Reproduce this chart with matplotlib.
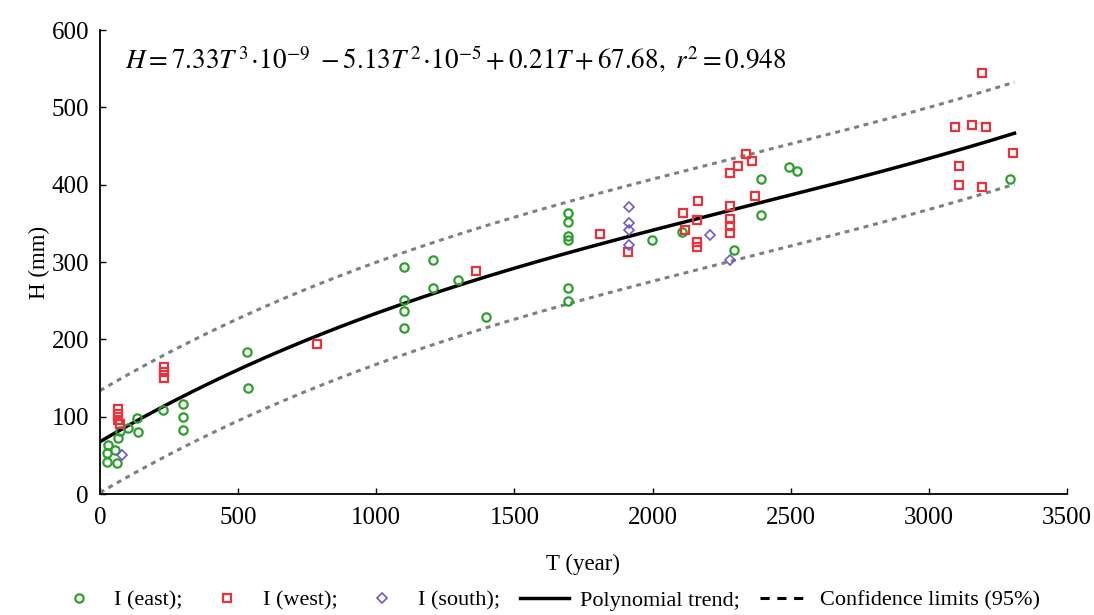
import matplotlib
matplotlib.use("Agg")
import matplotlib.pyplot as plt
from matplotlib.lines import Line2D
import numpy as np

plt.rcParams['font.family'] = ['Liberation Serif', 'DejaVu Serif']
plt.rcParams['mathtext.fontset'] = 'stix'

# --- data --- #
east_T = [30, 54, 24, 24, 60, 66, 72, 102, 133, 139, 229, 301, 301, 301, 533, 537,
          1101, 1101, 1101, 1101, 1204, 1204, 1297, 1397, 1695, 1695, 1695, 1695, 1695, 1695,
          1999, 2105, 2295, 2392, 2392, 2495, 2524, 3294]
east_H = [63, 57, 53, 42, 40, 72, 81, 85, 98, 80, 109, 117, 100, 83, 184, 137,
          293, 251, 237, 215, 302, 266, 277, 229, 364, 352, 333, 329, 266, 249,
          328, 339, 315, 407, 361, 423, 418, 407]

west_T = [66, 66, 66, 72, 232, 232, 232, 787, 1361, 1810, 1910, 2111, 2117, 2160, 2165,
          2160, 2160, 2280, 2280, 2280, 2280, 2280, 2310, 2337, 2359, 2371,
          3094, 3110, 3110, 3158, 3191, 3191, 3207, 3303]
west_H = [110, 104, 96, 90, 164, 158, 150, 194, 289, 336, 313, 363, 341, 354, 379,
          326, 320, 415, 372, 355, 346, 338, 424, 440, 430, 385,
          475, 424, 400, 477, 545, 397, 475, 441]

south_T = [78, 1915, 1915, 1915, 1915, 2208, 2280]
south_H = [50, 371, 351, 341, 322, 335, 303]

# polynomial trend coefficients (from the equation on the chart), highest power first
trend_coef = [7.33e-9, -5.13e-5, 0.21, 67.68]
trend_T_max = 3310
ci_half = 66  # half width of the 95% limits (mm)

green = '#2ca02c'
red = '#e8333a'
blue = '#6a5acd'

fig = plt.figure(figsize=(10.94, 6.15), dpi=100)
ax = fig.add_axes([0.0914, 0.1967, 0.8839, 0.7545])

tt = np.linspace(0, trend_T_max, 300)
hh = np.polyval(trend_coef, tt)
ax.plot(tt, hh + ci_half, color='#7f7f7f', lw=2.2, ls=(0, (1.6, 1.6)))
ax.plot(tt, hh - ci_half, color='#7f7f7f', lw=2.2, ls=(0, (1.6, 1.6)))
ax.plot(tt, hh, color='black', lw=2.5)

ax.plot(east_T, east_H, 'o', ms=6, mfc='none', mec=green, mew=1.6)
ax.plot(west_T, west_H, 's', ms=6, mfc='none', mec=red, mew=1.6)
ax.plot(south_T, south_H, 'D', ms=5.5, mfc='none', mec=blue, mew=1.2)

ax.set_xlim(0, 3500)
ax.set_ylim(0, 600)
ax.set_xticks(range(0, 3501, 500))
ax.set_yticks(range(0, 601, 100))
ax.tick_params(direction='in', labelsize=18, length=4, width=1)
ax.tick_params(axis='x', pad=9)
ax.tick_params(axis='y', pad=8)
ax.spines['top'].set_visible(False)
ax.spines['right'].set_visible(False)
ax.spines['left'].set_linewidth(1.3)
ax.spines['bottom'].set_linewidth(1.3)
ax.set_xlabel('T (year)', fontsize=16.5, labelpad=18)
ax.set_ylabel('H (mm)', fontsize=16.5, labelpad=1)

ax.text(0.026, 0.937,
        r'$H = 7.33T^{\,3}\!\cdot\!10^{-9}\ - 5.13T^{\,2}\!\cdot\!10^{-5} + 0.21T + 67.68,\ r^2 = 0.948$',
        transform=ax.transAxes, fontsize=19.5, va='center', ha='left')

handles = [
    Line2D([], [], marker='o', ls='none', ms=6, mfc='none', mec=green, mew=1.6),
    Line2D([], [], marker='s', ls='none', ms=6, mfc='none', mec=red, mew=1.6),
    Line2D([], [], marker='D', ls='none', ms=5.5, mfc='none', mec=blue, mew=1.2),
    Line2D([], [], color='black', lw=2.5),
    Line2D([], [], color='black', lw=2.2, ls=(0, (3, 2.5))),
]
labels = ['I (east);', 'I (west);', 'I (south);', 'Polynomial trend;', 'Confidence limits (95%)']
fig.legend(handles, labels, loc='center', bbox_to_anchor=(0.5, 0.024), ncol=5,
           frameon=False, fontsize=16, handlelength=2.2, handletextpad=0.5,
           columnspacing=0.9)

fig.savefig('out.png', dpi=100)
